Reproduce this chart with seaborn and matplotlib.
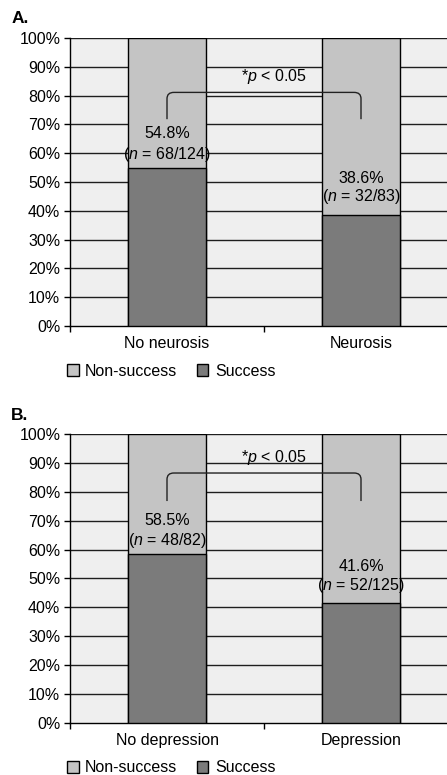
import matplotlib
matplotlib.use("Agg")
import matplotlib.pyplot as plt
import seaborn as sns
import pandas as pd
from matplotlib.patches import Patch, PathPatch
from matplotlib.path import Path

# Panel A: neurosis
cats_a = ["No neurosis", "Neurosis"]
success_a = [54.8, 38.6]
counts_a = ["68/124", "32/83"]

# Panel B: depression
cats_b = ["No depression", "Depression"]
success_b = [58.5, 41.6]
counts_b = ["48/82", "52/125"]

yticks = [0, 10, 20, 30, 40, 50, 60, 70, 80, 90, 100]

sns.set_theme(style="white")
plt.rcParams["font.family"] = ["Liberation Sans", "DejaVu Sans"]
plt.rcParams["mathtext.fontset"] = "custom"
plt.rcParams["mathtext.it"] = "Liberation Sans:italic"
plt.rcParams["mathtext.rm"] = "Liberation Sans"
for key in ["text.color", "xtick.color", "ytick.color", "axes.labelcolor"]:
    plt.rcParams[key] = "black"

C_SUCCESS = "#7b7b7b"
C_NON = "#c4c4c4"
C_BG = "#efefef"
FS = 11.5

fig = plt.figure(figsize=(4.47, 7.75), dpi=100)


def bracket(ax, x0, x1, ylow, ytop, rx=0.035, ry=2.2):
    verts = [(x0, ylow), (x0, ytop - ry), (x0, ytop), (x0 + rx, ytop),
             (x1 - rx, ytop), (x1, ytop), (x1, ytop - ry), (x1, ylow)]
    codes = [Path.MOVETO, Path.LINETO, Path.CURVE3, Path.CURVE3,
             Path.LINETO, Path.CURVE3, Path.CURVE3, Path.LINETO]
    ax.add_patch(PathPatch(Path(verts, codes), fill=False, lw=1.0,
                           edgecolor="#222222", zorder=5))


def panel(rect, cats, success, counts, letter, label_y, sig_y, br, leg_y):
    ax = fig.add_axes(rect)
    df = pd.DataFrame({"cat": cats, "total": [100.0] * len(cats),
                       "success": success})
    sns.barplot(data=df, x="cat", y="total", color=C_NON, width=0.4,
                edgecolor="black", linewidth=1.0, saturation=1, ax=ax,
                zorder=3)
    sns.barplot(data=df, x="cat", y="success", color=C_SUCCESS, width=0.4,
                edgecolor="black", linewidth=1.0, saturation=1, ax=ax,
                zorder=4)
    ax.set_facecolor(C_BG)
    ax.set_xlim(-0.5, 1.5)
    ax.set_ylim(0, 100)
    ax.set_yticks(yticks)
    ax.set_yticklabels([f"{v}%" for v in yticks], fontsize=FS)
    ax.set_xticks([-0.5, 0.5, 1.5])
    ax.set_xticklabels([])
    ax.set_xticks([0, 1], minor=True)
    ax.set_xticklabels(cats, minor=True, fontsize=FS)
    ax.tick_params(axis="x", which="minor", length=0, pad=7)
    ax.tick_params(axis="x", which="major", direction="out", length=4,
                   width=1, color="black", bottom=True)
    ax.tick_params(axis="y", direction="out", length=4, width=1,
                   color="black", left=True, pad=3)
    ax.set_xlabel("")
    ax.set_ylabel("")
    for y in yticks[1:]:
        ax.axhline(y, color="#1e1e1e", lw=1.0, zorder=1)
    for s in ["top", "right"]:
        ax.spines[s].set_visible(False)
    for s in ["left", "bottom"]:
        ax.spines[s].set_color("black")
        ax.spines[s].set_linewidth(1.0)

    for i, (v, n) in enumerate(zip(success, counts)):
        ya, yb = label_y[i]
        ax.text(i, ya, f"{v}%", ha="center", va="center", fontsize=FS,
                zorder=6)
        ax.text(i, yb, r"($\it{n}$ = " + n + ")", ha="center", va="center",
                fontsize=FS, zorder=6)

    bracket(ax, 0, 1, br[0], br[1])
    ax.text(0.55, sig_y, r"*$\it{p}$ < 0.05", ha="center", va="center",
            fontsize=FS, zorder=6)

    fig.text(0.025, rect[1] + rect[3] + 0.0245, letter, fontsize=12.5,
             fontweight="bold", ha="left", va="center")

    handles = [Patch(facecolor=C_NON, edgecolor="black", lw=1.0),
               Patch(facecolor=C_SUCCESS, edgecolor="black", lw=1.0)]
    fig.legend(handles, ["Non-success", "Success"], loc="center left",
               bbox_to_anchor=(0.135, leg_y), ncol=2, frameon=False,
               fontsize=FS, handlelength=0.75, handleheight=0.75,
               handletextpad=0.4, columnspacing=1.2, borderaxespad=0)
    return ax


panel([70 / 447, 0.5794, 388 / 447, 0.3716], cats_a, success_a, counts_a,
      "A.", [(67.0, 59.7), (51.3, 45.0)], 86.5, (71.8, 81.1),
      1 - 371 / 775)
panel([70 / 447, 0.0671, 388 / 447, 0.3729], cats_b, success_b, counts_b,
      "B.", [(70.2, 63.3), (54.0, 47.6)], 91.7, (76.8, 86.5),
      1 - 768 / 775)

fig.savefig("out.png", dpi=100)
